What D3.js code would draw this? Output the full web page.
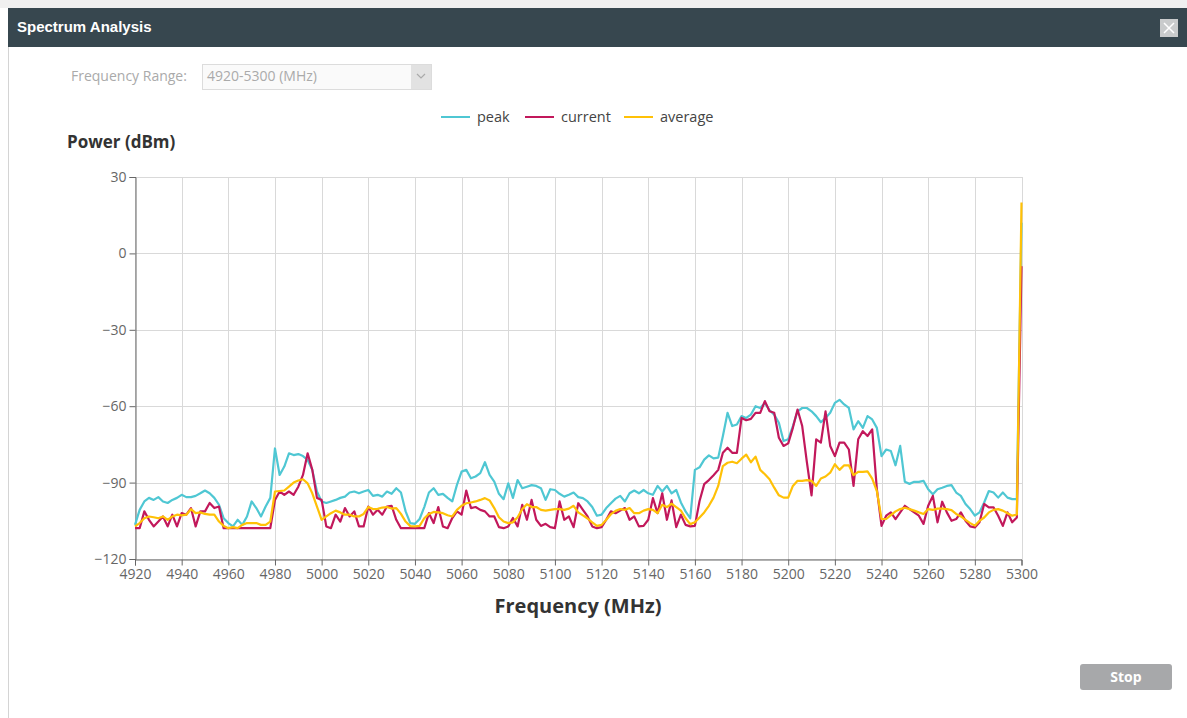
<!DOCTYPE html>
<html>
<head>
<meta charset="utf-8">
<script src="https://cdn.jsdelivr.net/npm/d3@7"></script>
<style>
  body { margin: 0; background: #fff; }
  text { font-family: "Open Sans", "Liberation Sans", sans-serif; }
</style>
</head>
<body>
<svg id="chart" width="1187" height="718"></svg>
<script>
// frequency grid of the scan (MHz), one sample every 2 MHz
let freqs = d3.range(4920, 5301, 2);

let xTicks = d3.range(4920, 5301, 20);
let yTicks = [30, 0, -30, -60, -90, -120];

// series values (dBm), 20 MHz per row
let peak = [
  -106.6, -100.7, -97.4, -96, -96.8, -95.7, -97.4, -98, -96.8, -96,
  -94.8, -95.7, -95.7, -95.2, -94.2, -93.1, -94.2, -96, -98.7, -104,
  -105.9, -107.2, -104.6, -106.6, -103.3, -97.4, -100, -103.3, -99.4, -96,
  -76.6, -87, -83.7, -78.5, -79.2, -78.8, -79.6, -81.1, -85, -93.5,
  -97.4, -98, -97.4, -96.8, -96, -95.5, -93.9, -93.5, -94.2, -93.5,
  -92.9, -95.2, -94.8, -95.5, -93.5, -94.4, -92.2, -93.9, -101.3, -105.9,
  -106.2, -104.3, -99.6, -93.9, -92.2, -94.8, -94.4, -96, -97.4, -90.9,
  -85.7, -85, -88.3, -87.6, -86.3, -82, -87, -89.6, -94.4, -96.5,
  -90.3, -96, -89, -92.2, -91.6, -91, -91.3, -92.2, -96.8, -92.6,
  -92.9, -94.4, -95.5, -94.8, -93.9, -95.7, -96.1, -97.4, -99.6, -103,
  -102.6, -100, -98.1, -96.3, -95.2, -97.4, -94.2, -93.1, -94.2, -92.9,
  -94.2, -94.8, -91.3, -93.5, -91.3, -94.2, -92.9, -97.8, -101.3, -104,
  -85, -84, -81, -79.3, -80.5, -80.2, -71.7, -62.6, -67.8, -67.2,
  -63.9, -64.6, -63.3, -60, -60.7, -58.7, -61.6, -63.3, -66.5, -73.7,
  -73, -67.8, -62, -60.7, -60.7, -62, -63.9, -66.3, -64.6, -62.6,
  -58.7, -57.5, -59.3, -60.7, -69.1, -65.9, -68.5, -63.9, -65.2, -68.5,
  -79.6, -77, -77.6, -83.2, -75.6, -89.7, -90.5, -89.7, -89.7, -89.3,
  -92.6, -94.6, -92.6, -92, -91.3, -91, -93.9, -95.2, -98.4, -100.4,
  -103, -101.7, -97.8, -93.3, -93.9, -95.9, -93.9, -95.9, -96.5, -96.5,
  12
];

let current = [
  -107.9, -107.9, -101.3, -104.6, -107.2, -105.3, -103.3, -107.2, -102.6, -107.2,
  -102, -102.6, -100, -107.2, -101.3, -101.3, -98, -100, -99.4, -107.9,
  -107.9, -107.9, -107.9, -107.9, -107.9, -107.9, -107.9, -107.9, -107.9, -107.9,
  -96.8, -93.5, -94.8, -93.5, -94.8, -91.6, -87, -78.5, -85, -96,
  -96.8, -107.2, -107.9, -102.6, -105.3, -100, -103.3, -101.3, -107.2, -107.2,
  -99.4, -102.6, -100.7, -102.6, -99.4, -99.1, -104.6, -107.9, -107.9, -107.9,
  -107.9, -107.9, -107.9, -102, -105.9, -99.6, -107.2, -107.9, -103.9, -101.3,
  -102.6, -93.1, -100, -99.6, -100.7, -101.3, -103.3, -103.3, -107.5, -107.9,
  -107.2, -103.9, -107.2, -98.7, -104.6, -96.8, -104.6, -107, -106.2, -107.5,
  -107.9, -97.4, -104.6, -103.3, -107.5, -98.1, -100.7, -103.3, -107.2, -107.9,
  -107.5, -104.6, -101.3, -102, -101, -100, -104.6, -103.3, -107.2, -107,
  -104.6, -96.1, -102, -94.2, -104.6, -97, -107.5, -102.6, -106.6, -107.2,
  -107, -97.2, -90.6, -89, -87.1, -85, -78.3, -76.3, -78.3, -78.3,
  -64.6, -65.5, -65, -62.6, -62.6, -58, -62, -62.6, -72.4, -75.6,
  -74.6, -68.5, -61.3, -67.8, -82, -95, -73, -74.3, -62, -75.6,
  -79.6, -74.3, -74.3, -77, -91.3, -73, -69.8, -71.7, -69.1, -92.6,
  -107, -103, -101.7, -104.3, -101.7, -99.1, -100.4, -101.7, -103, -106.2,
  -99.1, -95.2, -105.6, -97.5, -101.7, -105, -104.3, -101.7, -105, -107.2,
  -107.6, -105.6, -98.4, -99.7, -99.7, -103, -107, -101.7, -105.6, -103.7,
  -5
];

let average = [
  -107.2, -105.9, -104, -103.3, -103.6, -104, -103.3, -104.6, -103.3, -102.6,
  -102.9, -102.6, -100.4, -102, -101.7, -102.3, -102.6, -102.6, -105.3, -107,
  -107.9, -107.5, -107.9, -106.6, -105.9, -105.9, -105.9, -106.6, -106.6, -105.3,
  -93.5, -93.3, -93.1, -91.6, -90, -89.2, -88.7, -90.3, -94.2, -99.4,
  -104.6, -103.3, -102, -101, -101.7, -102.6, -102.6, -103.3, -103.3, -102.3,
  -99.6, -100.4, -100.3, -99.8, -99.6, -100.2, -100, -102.3, -105.3, -107.1,
  -107.2, -107, -104, -102.3, -101.5, -101.7, -102, -102.8, -103.3, -100.7,
  -99.1, -98.1, -97.8, -97.4, -96.8, -96.1, -97, -100, -103.6, -105.3,
  -105.9, -105.6, -103.6, -100.4, -98.5, -99.6, -99.6, -100.7, -101, -100.7,
  -100.4, -100.4, -100.7, -100.2, -99.1, -101.7, -102.9, -104.1, -105.6, -107,
  -106.6, -104.6, -102.4, -101.1, -100.4, -100.7, -100, -102, -102, -101,
  -100.4, -100.7, -102, -98.7, -99.6, -98.3, -99.6, -101, -104, -106.3,
  -105.6, -103.7, -101.7, -99.1, -95.9, -91.3, -83.5, -82.2, -81.8, -82.4,
  -80.6, -79, -82, -79.8, -85, -86.7, -88.7, -92, -95, -95.9,
  -95.9, -91.3, -89.3, -89.3, -89, -89.3, -91.3, -88.4, -87.6, -86.1,
  -82.8, -85, -83.2, -83.2, -87.1, -85.8, -85.8, -85.6, -88.4, -93.3,
  -104.3, -104.3, -102.8, -101.3, -100.4, -99.9, -100.4, -101, -101.7, -102.3,
  -100.4, -100.7, -100.2, -100.2, -100.4, -100.8, -102.3, -103.3, -104.6, -105.9,
  -106.9, -105, -103.7, -101.7, -100.7, -100.4, -101, -102, -103, -102.5,
  20
];

let seriesNames = ['peak', 'current', 'average'];
let seriesColors = ['#4fc7d3', '#c2185b', '#ffc107'];
let seriesValues = [peak, current, average];

let svg = d3.select('#chart');

// dialog frame
svg.append('rect').attr('x', 0).attr('y', 0).attr('width', 1187).attr('height', 8).attr('fill', '#f0f0f0');
svg.append('rect').attr('x', 8).attr('y', 8).attr('width', 1179).attr('height', 39).attr('fill', '#37474f');
svg.append('line').attr('x1', 8.5).attr('x2', 8.5).attr('y1', 47).attr('y2', 718).attr('stroke', '#d4d4d4');
svg.append('text')
  .attr('x', 17).attr('y', 32)
  .attr('fill', '#fff')
  .style('font-family', '"Liberation Sans Narrow", "Liberation Sans", Arial, sans-serif')
  .style('font-size', '15px')
  .style('font-weight', 'bold')
  .text('Spectrum Analysis');
svg.append('rect').attr('x', 1160).attr('y', 19).attr('width', 18).attr('height', 18).attr('fill', '#c9cbcc');
svg.append('path').attr('d', 'M1164,23L1174,33M1174,23L1164,33').attr('stroke', '#fff').attr('stroke-width', 1.5);

// frequency range selector
svg.append('text')
  .attr('x', 71).attr('y', 81)
  .attr('fill', '#aaa').style('font-size', '14px')
  .text('Frequency Range:');
svg.append('rect').attr('x', 202.5).attr('y', 64.5).attr('width', 229).attr('height', 25)
  .attr('fill', '#fafafa').attr('stroke', '#dcdcdc');
svg.append('rect').attr('x', 411).attr('y', 65).attr('width', 20).attr('height', 24).attr('fill', '#e2e2e2');
svg.append('path').attr('d', 'M417,74L421,78L425,74').attr('fill', 'none').attr('stroke', '#aaa').attr('stroke-width', 1.2);
svg.append('text')
  .attr('x', 207).attr('y', 81)
  .attr('fill', '#aaa').style('font-size', '14px')
  .text('4920-5300 (MHz)');

// scales
let x = d3.scaleLinear().domain([4920, 5300]).range([135, 1021.5]);
let y = d3.scaleLinear().domain([-120, 30]).range([559, 177]);

// grid
let grid = svg.append('g').attr('stroke', '#d9d9d9').attr('stroke-width', 1);
grid.selectAll('.hg').data(yTicks).enter().append('line')
  .attr('x1', 135).attr('x2', 1022)
  .attr('y1', d => Math.round(y(d)) + 0.5).attr('y2', d => Math.round(y(d)) + 0.5);
grid.selectAll('.vg').data(xTicks).enter().append('line')
  .attr('y1', 177).attr('y2', 559)
  .attr('x1', d => Math.round(x(d)) + 0.5).attr('x2', d => Math.round(x(d)) + 0.5);
grid.append('line').attr('x1', 1022.5).attr('x2', 1022.5).attr('y1', 177).attr('y2', 559);

// axes
let yAxis = svg.append('g')
  .attr('transform', 'translate(135.5,0)')
  .call(d3.axisLeft(y).tickValues(yTicks).tickSize(6).tickPadding(3));
let xAxis = svg.append('g')
  .attr('transform', 'translate(0,559.5)')
  .call(d3.axisBottom(x).tickValues(xTicks).tickSize(6).tickPadding(4).tickFormat(d3.format('d')));
[xAxis, yAxis].forEach(a => {
  a.select('.domain').attr('stroke', '#666');
  a.selectAll('.tick line').attr('stroke', '#666');
  a.selectAll('.tick text')
    .attr('fill', '#666')
    .style('font-size', '14px')
    .style('font-family', '"Open Sans", sans-serif');
});

// lines
let line = d3.line()
  .x((d, i) => x(freqs[i]))
  .y(d => y(d));

svg.append('g').selectAll('.series')
  .data(seriesValues)
  .enter().append('path')
    .attr('class', 'series')
    .attr('d', line)
    .attr('fill', 'none')
    .attr('stroke', (d, i) => seriesColors[i])
    .attr('stroke-width', 2.2)
    .attr('stroke-linejoin', 'round');

// legend
let legendX = [441, 525, 624];
let legend = svg.selectAll('.legend')
  .data(seriesNames)
  .enter().append('g')
    .attr('class', 'legend')
    .attr('transform', (d, i) => `translate(${legendX[i]}, 117)`);
legend.append('line')
  .attr('x1', 0).attr('x2', 29)
  .attr('stroke', (d, i) => seriesColors[i])
  .attr('stroke-width', 2);
legend.append('text')
  .attr('x', 36).attr('y', 5)
  .attr('fill', '#444')
  .style('font-size', '14.5px')
  .text(d => d);

// axis titles
svg.append('text')
  .attr('x', 67).attr('y', 148)
  .attr('fill', '#333')
  .style('font-size', '17px').style('font-weight', 'bold')
  .text('Power (dBm)');
svg.append('text')
  .attr('x', 578).attr('y', 613)
  .attr('text-anchor', 'middle')
  .attr('fill', '#333')
  .style('font-size', '20px').style('font-weight', 'bold')
  .text('Frequency (MHz)');

// stop button
svg.append('rect').attr('x', 1080).attr('y', 664).attr('width', 92).attr('height', 26).attr('rx', 3)
  .attr('fill', '#a7a8aa');
svg.append('text')
  .attr('x', 1126).attr('y', 682)
  .attr('text-anchor', 'middle')
  .attr('fill', '#fff')
  .style('font-size', '14px').style('font-weight', 'bold')
  .text('Stop');
</script>
</body>
</html>
